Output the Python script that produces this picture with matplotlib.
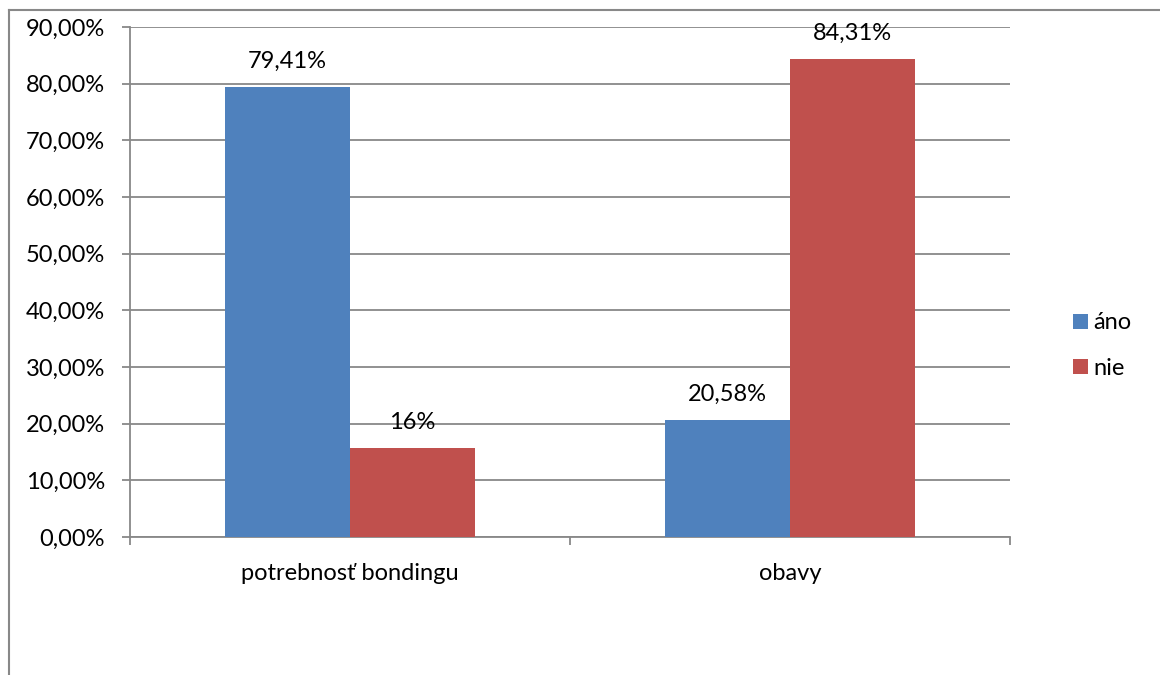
import matplotlib.pyplot as plt
from matplotlib.lines import Line2D
from matplotlib.ticker import FuncFormatter
import numpy as np

categories = ["potrebnosť bondingu", "obavy"]
series_names = ["áno", "nie"]
ano_values = [79.41, 20.58]
nie_values = [15.7, 84.31]
ano_labels = ["79,41%", "20,58%"]
nie_labels = ["16%", "84,31%"]
colors = ["#4f81bd", "#c0504d"]

plt.rcParams["font.family"] = ["Lato", "DejaVu Sans"]
fs = 17

fig = plt.figure(figsize=(11.6, 6.75), dpi=100)
ax = fig.add_axes([130 / 1160, 1 - 537 / 675, 880 / 1160, 510 / 675])

x = np.arange(len(categories))
w = 0.284
bars_a = ax.bar(x - w / 2, ano_values, w, color=colors[0], label=series_names[0], zorder=3)
bars_n = ax.bar(x + w / 2, nie_values, w, color=colors[1], label=series_names[1], zorder=3)

for bars, labels in [(bars_a, ano_labels), (bars_n, nie_labels)]:
    for b, lab in zip(bars, labels):
        ax.annotate(lab, (b.get_x() + b.get_width() / 2, b.get_height()),
                    xytext=(0, 11), textcoords="offset points",
                    ha="center", va="bottom", fontsize=fs)

grey = "#888888"
ax.set_xlim(-0.5, 1.5)
ax.set_ylim(0, 90)
ax.set_yticks(np.arange(0, 91, 10))
ax.yaxis.set_major_formatter(FuncFormatter(lambda v, p: f"{v:.2f}%".replace(".", ",")))
ax.yaxis.grid(True, color=grey, linewidth=1.3, zorder=0)

ax.set_xticks([-0.5, 0.5, 1.5])
ax.set_xticklabels([])
ax.set_xticks(x, minor=True)
ax.set_xticklabels(categories, minor=True)
ax.tick_params(axis="x", which="minor", length=0, pad=19, labelsize=fs)
ax.tick_params(axis="x", which="major", length=6, width=1.3, color=grey)
ax.tick_params(axis="y", length=6, width=1.3, color=grey, labelsize=fs, pad=12)

for s in ["top", "right"]:
    ax.spines[s].set_visible(False)
for s in ["left", "bottom"]:
    ax.spines[s].set_color(grey)
    ax.spines[s].set_linewidth(1.3)

ax.legend(loc="center left", bbox_to_anchor=(1.048, 0.375), frameon=False,
          fontsize=fs, handlelength=0.6, handleheight=0.6, handletextpad=0.25,
          labelspacing=1.05)

# outer chart frame (cropped on the right and bottom)
fig.add_artist(Line2D([8.5 / 1160, 8.5 / 1160], [0, 1 - 10 / 675],
                      transform=fig.transFigure, color=grey, linewidth=1.5))
fig.add_artist(Line2D([8.5 / 1160, 1], [1 - 10 / 675, 1 - 10 / 675],
                      transform=fig.transFigure, color=grey, linewidth=1.5))

fig.savefig("out.png", dpi=100)
